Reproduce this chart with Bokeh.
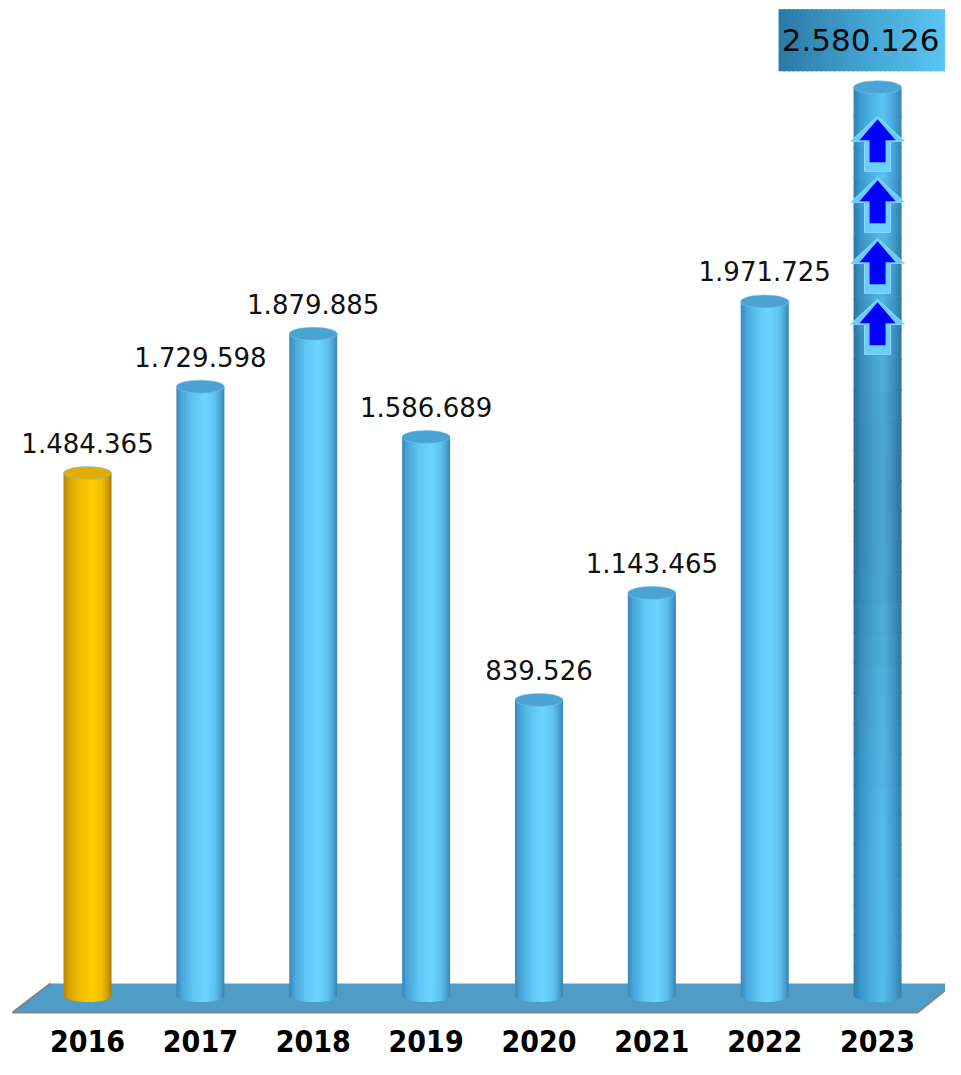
import numpy as np
from bokeh.plotting import figure
from bokeh.models import ColumnDataSource, Range1d
from bokeh.core.properties import value
from bokeh.embed import file_html
from bokeh.resources import INLINE

# ---------------- data ----------------
years = ["2016", "2017", "2018", "2019", "2020", "2021", "2022", "2023"]
visitors = [1484365, 1729598, 1879885, 1586689, 839526, 1143465, 1971725, 2580126]
value_labels = [f"{v:,}".replace(",", ".") for v in visitors]
styles = ["gold", "blue", "blue", "blue", "blue", "blue", "blue", "record"]

# ---------------- geometry helpers ----------------
PX_X = 1 / 112.86      # data units (x) per screen pixel
PX_Y = 2841.0          # data units (y) per screen pixel
BAR_W = 48 * PX_X
ELL_H = 13 * PX_Y
N_STRIPS = 36

W, H = 945, 1059
p = figure(width=W, height=H, output_backend="svg", toolbar_location=None,
           x_range=Range1d(-0.771, 7.602), y_range=Range1d(-181800, 2826800),
           min_border=0, background_fill_color="white", border_fill_color="white")
p.axis.visible = False
p.grid.visible = False
p.outline_line_color = None


def hex2rgb(h):
    h = h.lstrip("#")
    return np.array([int(h[i:i + 2], 16) for i in (0, 2, 4)], dtype=float)


def rgb2hex(c):
    c = np.clip(np.round(c), 0, 255).astype(int)
    return "#%02x%02x%02x" % tuple(c)


def interp(stops, t):
    ts = [s[0] for s in stops]
    cols = [hex2rgb(s[1]) for s in stops]
    for i in range(len(ts) - 1):
        if ts[i] <= t <= ts[i + 1]:
            f = (t - ts[i]) / (ts[i + 1] - ts[i])
            return cols[i] * (1 - f) + cols[i + 1] * f
    return cols[-1]


profiles = {
    "blue": [(0, "#3a89b8"), (0.12, "#4aa7d9"), (0.35, "#5fc6f4"), (0.6, "#6dd3ff"),
             (0.8, "#5ec2f0"), (0.92, "#4aa3d2"), (1, "#3883ae")],
    "gold": [(0, "#b48700"), (0.12, "#d9a500"), (0.4, "#f6c300"), (0.6, "#ffcc00"),
             (0.8, "#f0bd00"), (0.92, "#d09d00"), (1, "#a67b00")],
    "record": [(0, "#2e7cab"), (0.15, "#3c98ca"), (0.45, "#4fb4e4"), (0.62, "#58bdee"),
               (0.85, "#439dce"), (1, "#3180ab")],
}
top_colors = {"blue": "#4ba3d4", "gold": "#e2ad00", "record": "#4aa5d6"}

# ---------------- floor ----------------
n = len(years)
floor_top = 12 * PX_Y
floor_bot = -17 * PX_Y
fx = [-0.665, -0.328, n - 1 + 0.673, n - 1 + 0.354]
fy = [floor_bot, floor_top, floor_top, floor_bot]
p.patch(fx, fy, fill_color="#4f9cc6", line_color=None)
p.line([fx[1], fx[0], fx[3], fx[2]], [fy[1], fy[0], fy[3], fy[2]],
       line_color="#7a8790", line_width=2.2)

# ---------------- cylinders ----------------
qs = dict(left=[], right=[], bottom=[], top=[], color=[])
for i, (v, st) in enumerate(zip(visitors, styles)):
    prof = profiles[st]
    x0 = i - BAR_W / 2
    sw = BAR_W / N_STRIPS
    for k in range(N_STRIPS):
        t = (k + 0.5) / N_STRIPS
        base_col = interp(prof, t)
        bot = -ELL_H / 2 * np.sqrt(max(0.0, 1 - (2 * t - 1) ** 2))
        right = x0 + (k + 1) * sw + (sw * 0.6 if k < N_STRIPS - 1 else 0)
        if st == "record":
            segs = 30
            edges = np.linspace(bot, v, segs + 1)
            for j in range(segs):
                ym = (edges[j] + edges[j + 1]) / 2
                fr = ym / v
                fac = 1 - 0.12 * np.exp(-((fr - 0.55) / 0.25) ** 2) + 0.05 * np.exp(-((fr - 0.95) / 0.08) ** 2)
                qs["left"].append(x0 + k * sw)
                qs["right"].append(right)
                qs["bottom"].append(edges[j])
                qs["top"].append(edges[j + 1] + (PX_Y * 1.5 if j < segs - 1 else 0))
                qs["color"].append(rgb2hex(base_col * fac))
        else:
            qs["left"].append(x0 + k * sw)
            qs["right"].append(right)
            qs["bottom"].append(bot)
            qs["top"].append(v)
            qs["color"].append(rgb2hex(base_col))
p.quad(left="left", right="right", bottom="bottom", top="top",
       fill_color="color", line_color=None, source=ColumnDataSource(qs))

# top ellipses
p.ellipse(x=list(range(n)), y=visitors, width=BAR_W, height=ELL_H,
          fill_color=[top_colors[s] for s in styles], line_color="#6cc6ee",
          line_alpha=0.6, line_width=1)

# ---------------- value labels ----------------
lab_idx = [i for i, s in enumerate(styles) if s != "record"]
p.text(x=lab_idx, y=[visitors[i] + 30 * PX_Y for i in lab_idx],
       text=[value_labels[i] for i in lab_idx],
       text_font=value("DejaVu Sans"), text_font_size="26px",
       text_color="#111111", text_align="center", text_baseline="middle")

# record label box with gradient
rec = [i for i, s in enumerate(styles) if s == "record"][0]
rv = visitors[rec]
bx0 = rec - 99 * PX_X
bx1 = rec + 84 * PX_X
by0 = rv + 16 * PX_Y
by1 = rv + 78 * PX_Y
nb = 40
bw = (bx1 - bx0) / nb
box = dict(left=[bx0 + k * bw for k in range(nb)],
           right=[bx0 + (k + 1) * bw + bw * 0.5 for k in range(nb)],
           bottom=[by0] * nb, top=[by1] * nb,
           color=[rgb2hex(interp([(0, "#2b79a4"), (0.5, "#45a6d6"), (1, "#5dccf8")], (k + 0.5) / nb))
                  for k in range(nb)])
p.quad(left="left", right="right", bottom="bottom", top="top",
       fill_color="color", line_color=None, source=ColumnDataSource(box))
p.text(x=[rec - 17 * PX_X], y=[rv + 47 * PX_Y], text=[value_labels[rec]],
       text_font=value("DejaVu Sans"), text_font_size="31px",
       text_color="#0a0a0a", text_align="center", text_baseline="middle")

# arrows on record column
outer = [(0, 0), (27, 25), (13, 25), (13, 55), (-13, 55), (-13, 25), (-27, 25)]
inner = [(0, 3), (18, 24), (8, 24), (8, 46), (-8, 46), (-8, 24), (-18, 24)]
oxs, oys, ixs, iys = [], [], [], []
for k in range(4):
    tip = rv - (29 + 61 * k) * PX_Y
    oxs.append([rec + a * PX_X for a, b in outer])
    oys.append([tip - b * PX_Y for a, b in outer])
    ixs.append([rec + a * PX_X for a, b in inner])
    iys.append([tip - b * PX_Y for a, b in inner])
p.patches(oxs, oys, fill_color="#70d2ff", fill_alpha=0.9, line_color="#8fdcff", line_width=1)
p.patches(ixs, iys, fill_color="#0000ff", line_color=None)

# ---------------- year labels ----------------
p.text(x=list(range(n)), y=[-45 * PX_Y] * n, text=years,
       text_font=value("DejaVu Sans Condensed"),
       text_font_style="bold", text_font_size="30px",
       text_color="#000000", text_align="center", text_baseline="middle")

open("out.html", "w").write(file_html(p, INLINE))
